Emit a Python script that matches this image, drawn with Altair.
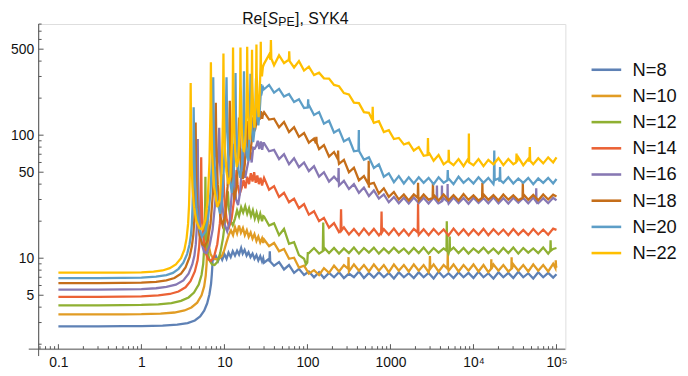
import altair as alt
import pandas as pd

FONT = "Liberation Sans, Arial, sans-serif"
AX = "#555555"

series_names = ["N=8", "N=10", "N=12", "N=14", "N=16", "N=18", "N=20", "N=22"]
colors = ["#5E81B5", "#E19C24", "#8FB032", "#EB6235", "#8778B3", "#C56E1A", "#5D9EC7", "#FFBF00"]

# common x grid for the decaying part and the late-time plateau
xt = [30, 34.5, 39.6, 45.5, 52.2, 60, 69, 79, 91, 104,
      120, 138, 158, 182, 209, 240, 275, 316, 363, 417,
      479, 550, 631, 725, 832, 955, 1100, 1260, 1450, 1660,
      1910, 2190, 2510, 2880, 3310, 3800, 4370, 5010, 5750, 6610,
      7590, 8710, 10000, 11500, 13200, 15100, 17400, 20000, 22900, 26300,
      30200, 34700, 39800, 45700, 52500, 60300, 69200, 79400, 91200, 100000]

# ---------------- N=8 ----------------
early_8 = [(0.1, 2.79), (0.3, 2.79), (0.6, 2.8), (1.0, 2.81), (1.8, 2.83), (2.7, 2.88), (3.6, 2.97),
           (4.4, 3.12), (5.1, 3.36), (5.7, 3.75), (6.2, 4.3), (6.6, 5.1), (6.9, 6.2), (7.05, 7.4),
           (7.15, 8.6), (7.2, 9.6), (7.5, 9.8), (7.9, 10.4), (8.4, 9.5), (8.9, 10.5), (9.4, 9.7),
           (10.0, 10.8), (10.6, 9.9), (11.2, 11.1), (11.9, 10.2), (12.6, 11.4), (13.4, 10.5),
           (14.2, 11.5), (15.0, 10.7), (15.9, 12.1), (16.6, 10.9), (17.5, 11.7), (18.5, 10.5),
           (19.5, 11.2), (20.6, 10.2), (21.8, 10.9), (23.0, 9.9), (24.3, 10.6), (25.6, 9.6),
           (27.0, 10.4), (28.4, 9.4), (29.3, 10.0)]
tail_8 = [9.2, 9.9, 8.7, 9.3, 8.1, 8.8, 7.6, 8.2, 7.3, 7.8,
          7.0, 7.7, 6.9, 7.6, 7.0, 7.7, 6.9, 7.5, 7.0, 7.8,
          6.9, 7.6, 6.95, 7.7, 7.0, 7.6, 6.85, 7.7, 7.0, 7.55,
          6.9, 7.7, 7.0, 7.6, 6.85, 7.75, 7.0, 7.55, 6.9, 7.7,
          7.0, 7.6, 6.9, 7.75, 7.0, 7.55, 6.85, 7.7, 7.0, 7.6,
          6.9, 7.75, 7.0, 7.55, 6.85, 7.7, 7.0, 7.6, 6.95, 7.4]
spikes_8 = [(34.8, 9.4), (35.2, 11.4), (35.6, 9.4)]

# ---------------- N=10 ----------------
early_10 = [(0.1, 3.49), (0.3, 3.49), (0.6, 3.5), (1.0, 3.51), (1.7, 3.55), (2.5, 3.62), (3.3, 3.76),
            (4.0, 3.98), (4.7, 4.35), (5.3, 5.0), (5.7, 5.9), (5.95, 7.2), (6.1, 9), (6.2, 12),
            (6.27, 17), (6.32, 25), (6.38, 16), (6.5, 12.5), (6.8, 10.8), (7.3, 10), (8.0, 9.8),
            (8.7, 10), (9.3, 10.4), (9.9, 11.5), (10.6, 13.5), (11.3, 15.5), (12.0, 16.8),
            (12.7, 15.4), (13.4, 17.9), (14.2, 15.9), (15.0, 18.4), (15.8, 16.1), (16.7, 17.6),
            (17.6, 15.4), (18.6, 16.9), (19.6, 14.9), (20.7, 16.2), (21.8, 14.4), (23.0, 15.7),
            (24.3, 13.8), (25.6, 15.0), (27.0, 13.4), (28.4, 14.5), (29.3, 13.3)]
tail_10 = [14.2, 12.5, 13.3, 11.4, 11.9, 9.9, 10.1, 8.4, 8.7, 7.5,
           8.0, 7.3, 8.3, 7.6, 8.7, 7.8, 8.8, 7.8, 8.9, 7.9,
           8.8, 7.8, 8.9, 7.9, 8.8, 7.7, 8.9, 7.9, 8.8, 7.8,
           8.9, 7.9, 8.8, 7.7, 8.9, 7.8, 8.8, 7.9, 8.9, 7.8,
           8.8, 7.9, 8.9, 7.8, 8.8, 7.7, 8.9, 7.9, 8.8, 7.8,
           8.9, 7.9, 8.8, 7.8, 8.9, 7.9, 8.8, 7.8, 9.0, 8.6]
spikes_10 = [(310, 8.2), (312.5, 10.2), (315, 8.1),
             (2960, 8.2), (2990, 10.4), (3020, 8.2),
             (4860, 8.2), (4900, 11.2), (4940, 8.2),
             (16300, 8.2), (16400, 9.8), (16500, 8.2),
             (28600, 8.2), (28800, 10.2), (29000, 8.2),
             (97000, 8.3), (98000, 9.6), (99000, 8.4)]

# ---------------- N=12 ----------------
early_12 = [(0.1, 4.14), (0.3, 4.14), (0.6, 4.15), (1.0, 4.17), (1.6, 4.22), (2.3, 4.32), (3.0, 4.5),
            (3.7, 4.8), (4.3, 5.25), (4.9, 6.1), (5.3, 7.3), (5.55, 9), (5.7, 12), (5.8, 18),
            (5.86, 28), (5.9, 46), (5.96, 24), (6.05, 15.5), (6.25, 11.5), (6.6, 9.6), (7.1, 8.9),
            (7.6, 8.8), (8.2, 9.3), (8.9, 11), (9.6, 14.5), (10.2, 20), (10.7, 30), (11.0, 35),
            (11.3, 26), (11.9, 20), (12.6, 18.5), (13.4, 21), (14.2, 24.5), (15.0, 22), (15.9, 26),
            (16.8, 23.5), (17.8, 26.5), (18.8, 23), (19.8, 25.5), (20.9, 22), (22.0, 24.5),
            (23.2, 21), (24.4, 23.5), (25.7, 20.5), (27.0, 23), (28.4, 20), (29.3, 22)]
tail_12 = [21.8, 18.4, 19.2, 15.4, 17.3, 13.1, 13.5, 10.6, 9.9, 11.0,
           12.1, 10.9, 12.2, 11.0, 12.1, 10.9, 12.0, 11.0, 12.2, 10.9,
           12.1, 11.1, 12.2, 10.9, 12.0, 11.0, 12.2, 11.1, 12.0, 10.9,
           12.1, 11.0, 12.2, 10.9, 12.1, 11.1, 12.0, 10.9, 12.2, 11.0,
           12.1, 10.9, 12.0, 11.1, 12.2, 11.0, 12.0, 10.9, 12.1, 11.0,
           12.2, 10.9, 12.1, 11.1, 12.0, 11.0, 12.2, 10.9, 11.9, 12.1]
spikes_12 = [(96, 8.9), (99.5, 9.2), (101, 11.0),
             (153, 11.4), (155, 19.5), (157, 11.4),
             (4730, 11.5), (4770, 20), (4810, 11.5),
             (5130, 11.5), (5170, 15), (5210, 11.5),
             (84200, 11.5), (84900, 14), (85600, 11.5)]

# ---------------- N=14 ----------------
early_14 = [(0.1, 4.86), (0.3, 4.86), (0.6, 4.87), (1.0, 4.9), (1.6, 4.98), (2.2, 5.12), (2.8, 5.36),
            (3.4, 5.8), (3.9, 6.5), (4.4, 7.8), (4.75, 9.6), (4.97, 12.5), (5.1, 17), (5.18, 26),
            (5.22, 40), (5.25, 66), (5.3, 35), (5.4, 22), (5.6, 14.5), (5.95, 11), (6.4, 9.8),
            (6.9, 9.5), (7.5, 10.3), (8.2, 13), (8.8, 19), (9.3, 30), (9.7, 48), (10.0, 30),
            (10.6, 21), (11.4, 18), (12.2, 21), (13.0, 29), (13.6, 40), (14.0, 52), (14.4, 40),
            (15.2, 33), (16.1, 37), (17.0, 43), (17.9, 37), (18.8, 46), (19.8, 40), (20.8, 49),
            (21.8, 42), (22.8, 50), (23.8, 41), (24.9, 47), (26.0, 40), (27.2, 45), (28.4, 39),
            (29.4, 43)]
tail_14 = [45, 36, 38.5, 31.5, 34, 28.5, 30.5, 25.5, 27.5, 22.6,
           24.1, 20, 21.3, 17.7, 19.3, 16.3, 17.8, 15.6, 17.3, 15.4,
           17.4, 15.5, 17.3, 15.3, 17.2, 15.5, 17.4, 15.4, 17.1, 15.3,
           17.3, 15.5, 17.2, 15.4, 17.3, 15.6, 17.1, 15.3, 17.4, 15.5,
           17.2, 15.4, 17.1, 15.5, 17.3, 15.4, 17.2, 15.6, 17.1, 15.4,
           17.3, 15.5, 17.0, 15.4, 17.3, 15.6, 17.1, 15.5, 17.4, 17.0]
spikes_14 = [(251, 16.8), (254, 25), (257, 16.8),
             (773, 16.2), (781, 24), (789, 16.2),
             (2130, 16.2), (2150, 28), (2170, 16.2)]

# ---------------- N=16 ----------------
early_16 = [(0.1, 5.56), (0.3, 5.56), (0.6, 5.58), (1.0, 5.61), (1.5, 5.7), (2.0, 5.84), (2.6, 6.1),
            (3.2, 6.6), (3.7, 7.5), (4.1, 8.9), (4.35, 10.5), (4.52, 13), (4.63, 17), (4.7, 25),
            (4.74, 40), (4.77, 93), (4.82, 45), (4.9, 28), (5.05, 18), (5.35, 13), (5.7, 11.2),
            (6.1, 11), (6.6, 12.5), (7.2, 17), (7.8, 30), (8.3, 60), (8.65, 115), (8.85, 60),
            (9.3, 30), (10.0, 19), (10.8, 16.5), (11.6, 20), (12.3, 35), (12.8, 85), (13.1, 45),
            (13.8, 30), (14.6, 27), (15.5, 35), (16.2, 55), (16.6, 78), (17.0, 55), (17.8, 45),
            (18.7, 54), (19.6, 63), (20.4, 73), (21.3, 60), (22.2, 79), (23.2, 78), (24.2, 82),
            (25.2, 90), (26.3, 77), (27.4, 89), (28.5, 76), (29.4, 86)]
tail_16 = [86, 74, 76, 64, 70, 58, 65, 55, 60, 51,
           56, 46, 50, 42, 46, 39, 42.5, 36.5, 40, 34,
           37.5, 32, 35.5, 30.5, 33, 28.5, 31.5, 28, 31, 27.9,
           31.2, 28.1, 31, 27.8, 31.1, 28, 30.8, 27.8, 31.2, 28.1,
           30.9, 27.7, 31, 28.2, 30.8, 27.9, 31.3, 28, 30.8, 27.8,
           31, 28.3, 30.9, 27.9, 31.1, 28, 30.8, 28, 31, 29.5]
spikes_16 = [(235, 42), (237.5, 54), (239, 42),
             (3600, 29), (3630, 39), (3660, 29),
             (4150, 29), (4170, 39), (4200, 29),
             (4850, 29), (4880, 40), (4910, 29),
             (56600, 29), (57000, 37), (57400, 29)]

# ---------------- N=18 ----------------
early_18 = [(0.1, 6.27), (0.3, 6.27), (0.6, 6.29), (1.0, 6.33), (1.5, 6.43), (2.0, 6.6), (2.5, 6.9),
            (3.0, 7.5), (3.4, 8.4), (3.8, 10.2), (4.05, 12.5), (4.22, 15.5), (4.33, 20), (4.41, 29),
            (4.46, 45), (4.5, 127), (4.55, 60), (4.62, 35), (4.75, 22), (5.0, 15.5), (5.4, 13),
            (5.8, 12.5), (6.3, 14), (6.8, 19), (7.3, 35), (7.65, 80), (7.87, 183), (8.0, 80),
            (8.3, 40), (8.9, 22), (9.5, 18.5), (10.2, 22), (10.9, 38), (11.35, 80), (11.6, 190),
            (11.8, 90), (12.3, 45), (13.2, 30), (14.0, 38), (14.6, 65), (15.0, 139), (15.3, 80),
            (15.9, 52), (16.7, 44), (17.6, 58), (18.3, 95), (18.6, 130), (18.9, 95), (19.6, 72),
            (20.3, 68), (21.3, 90), (22.0, 140), (22.4, 105), (23.5, 112), (24.5, 132), (25.5, 155),
            (26.5, 133), (27.5, 157), (28.5, 136), (29.3, 150)]
tail_18 = [154, 134, 136, 116, 128, 106, 116, 97, 104, 87,
           94, 77, 83, 67, 73, 58.5, 63, 50, 54.5, 43,
           46.5, 37.5, 41, 33.5, 37, 31.5, 34.5, 30, 33, 29.5,
           33, 29.5, 33, 29.8, 32.8, 29.5, 33, 29.6, 32.6, 29.5,
           33.2, 29.8, 32.5, 29.4, 33, 29.8, 32.6, 29.5, 33, 29.9,
           32.5, 29.6, 33.2, 29.8, 32.7, 29.6, 33, 30, 32.8, 31.8]
spikes_18 = [(126.5, 86), (128, 97), (129.5, 86),
             (232, 64), (234, 75), (236, 63),
             (542, 40), (547, 62), (552, 40),
             (2130, 31), (2150, 41), (2170, 31),
             (3220, 31), (3250, 41), (3280, 31),
             (12700, 31), (12800, 41), (12900, 31),
             (39000, 31), (39300, 41), (39600, 31)]

# ---------------- N=20 ----------------
early_20 = [(0.1, 6.9), (0.3, 6.9), (0.6, 6.92), (1.0, 6.96), (1.5, 7.08), (2.0, 7.3), (2.4, 7.6),
            (2.8, 8.2), (3.2, 9.2), (3.55, 10.8), (3.8, 13), (3.95, 15.5), (4.05, 19), (4.13, 26),
            (4.18, 38), (4.22, 70), (4.26, 169), (4.31, 90), (4.4, 45), (4.6, 26), (4.95, 17.5),
            (5.35, 15), (5.9, 16.5), (6.4, 22), (6.8, 35), (7.1, 65), (7.25, 140), (7.33, 295),
            (7.42, 130), (7.6, 60), (8.1, 30), (8.9, 23), (9.5, 33), (10.0, 70), (10.4, 150),
            (10.6, 295), (10.75, 140), (11.1, 70), (11.7, 42), (12.3, 34), (12.9, 45), (13.35, 110),
            (13.6, 320), (13.75, 150), (14.2, 75), (14.8, 52), (15.5, 45), (16.3, 58), (16.9, 130),
            (17.2, 330), (17.35, 160), (17.9, 90), (18.6, 68), (19.4, 62), (20.2, 120), (20.6, 315),
            (20.75, 170), (21.4, 110), (22.2, 88), (23.2, 115), (23.8, 200), (24.0, 290),
            (24.15, 190), (24.8, 140), (25.6, 120), (26.5, 150), (27.3, 210), (27.5, 260),
            (27.7, 210), (28.5, 230), (29.2, 245)]
tail_20 = [236, 256, 222, 238, 206, 216, 186, 196, 166, 176,
           146, 154, 124, 131, 105, 111, 89, 94, 74, 79,
           63, 66, 54, 58, 46, 49, 41.5, 46.5, 40.5, 45.5,
           40.5, 45.5, 41, 45, 40, 45.5, 41, 44.5, 40, 46,
           41, 44.5, 40.5, 45.5, 41, 45, 40, 44.5, 41, 45.5,
           40.5, 44.5, 41, 45, 40, 44.5, 41, 45, 40.5, 44]
spikes_20 = [(101, 168), (102, 196), (103, 168),
             (412, 75), (416, 110), (420, 74),
             (4850, 43), (4900, 52), (4950, 43),
             (17600, 42), (17800, 75), (18000, 43),
             (20700, 42), (20900, 55), (21100, 43)]

# ---------------- N=22 ----------------
early_22 = [(0.1, 7.62), (0.3, 7.62), (0.6, 7.64), (1.0, 7.68), (1.4, 7.78), (1.8, 7.95), (2.2, 8.3),
            (2.6, 8.9), (3.0, 10.0), (3.3, 11.8), (3.5, 14.5), (3.65, 19), (3.75, 27), (3.82, 45),
            (3.87, 90), (3.92, 265), (3.96, 120), (4.02, 60), (4.12, 38), (4.3, 26), (4.6, 20),
            (5.0, 17.5), (5.4, 17.2), (5.9, 20.5), (6.3, 30), (6.6, 60), (6.8, 170), (6.87, 392),
            (6.95, 150), (7.1, 70), (7.5, 38), (8.2, 26), (8.8, 30), (9.3, 55), (9.6, 140),
            (9.73, 462), (9.86, 160), (10.1, 80), (10.6, 50), (11.2, 40), (11.8, 46), (12.3, 85),
            (12.6, 210), (12.7, 517), (12.82, 220), (13.2, 100), (13.6, 68), (14.1, 55), (14.7, 64),
            (15.2, 110), (15.5, 260), (15.6, 517), (15.72, 250), (16.1, 120), (16.6, 82), (17.2, 73),
            (17.8, 88), (18.4, 150), (18.7, 300), (18.8, 523), (18.92, 300), (19.4, 150), (20.1, 92),
            (20.8, 115), (21.3, 230), (21.5, 495), (21.65, 270), (22.3, 150), (23.0, 115),
            (23.7, 165), (24.1, 290), (24.3, 546), (24.45, 320), (25.1, 180), (25.8, 140),
            (26.6, 220), (27.2, 360), (27.4, 574), (27.55, 380), (28.3, 300), (29.1, 360)]
tail_22 = [380, 450, 370, 445, 385, 430, 355, 400, 335, 360,
           308, 322, 290, 288, 256, 250, 220, 214, 184, 182,
           154, 152, 126, 130, 106, 110, 93, 95, 84, 87,
           75, 80, 68, 73, 62, 69, 58, 65, 57, 64,
           56, 65, 57, 64, 56, 63, 58, 65, 57, 64,
           58, 66, 57, 64, 58, 65, 59, 66, 60, 66]
spikes_22 = [(35.9, 410), (36.3, 593), (36.7, 420),
             (59.4, 410), (60.3, 480), (61.0, 400),
             (605, 133), (611, 170), (617, 130),
             (2800, 69), (2830, 95), (2860, 68),
             (4980, 62), (5030, 76), (5080, 61),
             (8740, 60), (8800, 103), (8860, 60),
             (32700, 60), (33000, 71), (33400, 61),
             (47200, 61), (47700, 80), (48200, 62)]

parts = {
    "N=8": (early_8, tail_8, spikes_8),
    "N=10": (early_10, tail_10, spikes_10),
    "N=12": (early_12, tail_12, spikes_12),
    "N=14": (early_14, tail_14, spikes_14),
    "N=16": (early_16, tail_16, spikes_16),
    "N=18": (early_18, tail_18, spikes_18),
    "N=20": (early_20, tail_20, spikes_20),
    "N=22": (early_22, tail_22, spikes_22),
}

rows = []
for k, name in enumerate(series_names):
    early, tail, spikes = parts[name]
    pts = list(early) + list(zip(xt, tail)) + list(spikes)
    pts.sort(key=lambda p: p[0])
    for a, b in pts:
        rows.append({"x": a, "y": b, "series": name, "k": k})
df = pd.DataFrame(rows)

# axis ticks
x_major = [0.1, 1, 10, 100, 1000, 10000, 100000]
y_major = [5, 10, 50, 100, 500]
x_minor = [m * 10.0 ** e for e in range(-2, 5) for m in range(2, 10) if 0.058 < m * 10.0 ** e < 127000]
y_minor = [m * 10.0 ** e for e in range(0, 3) for m in range(2, 10)
           if 1.83 < m * 10.0 ** e < 801 and m != 5]

W, H = 533, 329
xscale = alt.Scale(type="log", domain=[0.0578, 127900], nice=False, zero=False)
yscale = alt.Scale(type="log", domain=[1.824, 801], nice=False, zero=False)

x_label_expr = ("datum.value >= 100000 ? '10\u2075' : datum.value >= 10000 ? '10\u2074' : "
                "datum.value < 1 ? '0.1' : format(datum.value, 'd')")

x_axis = alt.Axis(values=x_major, labelExpr=x_label_expr, ticks=False, domain=False,
                  grid=False, title=None, labelFontSize=14, labelFont=FONT,
                  labelColor="#111111", labelPadding=7, labelOverlap=False, labelFlush=False)
y_axis = alt.Axis(values=y_major, format="d", ticks=False, domain=False, grid=False,
                  title=None, labelFontSize=14, labelFont=FONT, labelColor="#111111",
                  labelPadding=5, labelOverlap=False)

lines = alt.Chart(df).mark_line(strokeWidth=2.3, clip=False).encode(
    x=alt.X("x:Q", scale=xscale, axis=x_axis),
    y=alt.Y("y:Q", scale=yscale, axis=y_axis),
    color=alt.Color("series:N", scale=alt.Scale(domain=series_names, range=colors),
                    legend=alt.Legend(orient="none", legendX=558, legendY=29.8, title=None,
                                      symbolType="stroke", symbolSize=900, symbolStrokeWidth=2.6,
                                      symbolOpacity=1, labelFontSize=18.5, labelFont=FONT,
                                      labelColor="#111111", labelOffset=10, rowPadding=0.5,
                                      padding=0)),
    detail="series:N",
    order=alt.Order("x:Q"),
)

dummy = alt.Data(values=[{"a": 1}])

x_axis_line = alt.Chart(dummy).mark_rule(color=AX, strokeWidth=1).encode(
    x=alt.value(-10), x2=alt.value(W), y=alt.value(H))
y_axis_line = alt.Chart(dummy).mark_rule(color=AX, strokeWidth=1).encode(
    x=alt.value(0), y=alt.value(0), y2=alt.value(H + 7))

xmaj = alt.Chart(pd.DataFrame({"x": x_major})).mark_rule(color=AX, strokeWidth=1).encode(
    x=alt.X("x:Q", scale=xscale, axis=x_axis), y=alt.value(H), y2=alt.value(H - 5))
xmin = alt.Chart(pd.DataFrame({"x": x_minor})).mark_rule(color=AX, strokeWidth=1).encode(
    x=alt.X("x:Q", scale=xscale, axis=x_axis), y=alt.value(H), y2=alt.value(H - 3))
ymaj = alt.Chart(pd.DataFrame({"y": y_major})).mark_rule(color=AX, strokeWidth=1).encode(
    y=alt.Y("y:Q", scale=yscale, axis=y_axis), x=alt.value(0), x2=alt.value(5))
ymin = alt.Chart(pd.DataFrame({"y": y_minor})).mark_rule(color=AX, strokeWidth=1).encode(
    y=alt.Y("y:Q", scale=yscale, axis=y_axis), x=alt.value(0), x2=alt.value(3))


def title_piece(txt, xpos, ypos, size, style="normal"):
    return alt.Chart(dummy).mark_text(text=txt, align="left", baseline="alphabetic",
                                      font=FONT, fontSize=size, fontStyle=style,
                                      color="#111111").encode(
        x=alt.value(xpos), y=alt.value(ypos))


t1 = title_piece("Re[", 206, 0, 16)
t2 = title_piece("S", 231.5, 0, 16, "italic")
t3 = title_piece("PE", 242.5, 2.3, 12.4)
t4 = title_piece("], SYK4", 259.5, 0, 16)

chart = alt.layer(
    lines, x_axis_line, y_axis_line, xmaj, xmin, ymaj, ymin, t1, t2, t3, t4
).properties(
    width=W, height=H,
    padding={"left": 31, "top": 14, "right": 116, "bottom": 25},
    autosize=alt.AutoSizeParams(type="none"),
).configure_view(stroke=None).configure(background="white")

chart.save("out.html", embed_options={"renderer": "svg", "actions": False})
